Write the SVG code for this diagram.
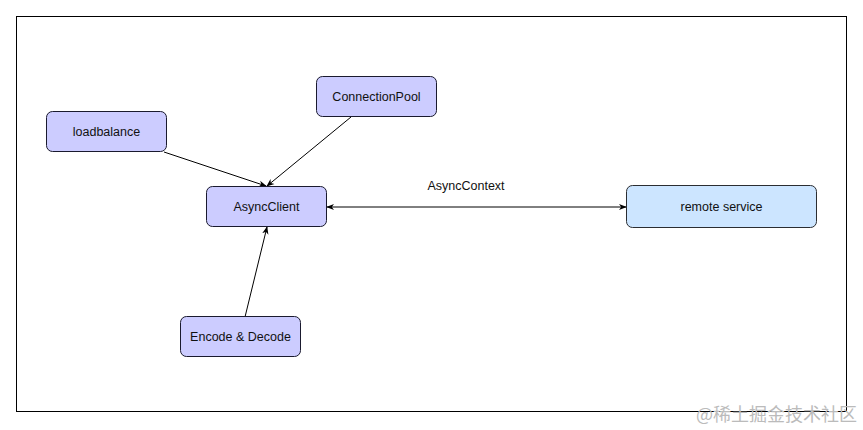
<svg xmlns="http://www.w3.org/2000/svg" width="863" height="430" viewBox="0 0 863 430">
<style>
.n{fill:#ccccff;stroke:#1a1a2e;stroke-width:1}
.r{fill:#cce5ff;stroke:#2b2d31;stroke-width:1}
.t{font-family:"Liberation Sans",Arial,sans-serif;font-size:12.5px;fill:#111;text-anchor:middle;dominant-baseline:central}
.e{stroke:#000;stroke-width:1;fill:none}
</style>
<defs>
<marker id="ah" viewBox="0 0 10 10" refX="9" refY="5" markerWidth="8" markerHeight="8" orient="auto-start-reverse" markerUnits="userSpaceOnUse">
<path d="M0,1 L10,5 L0,9 L3,5 Z" fill="#000"/>
</marker>
</defs>
<rect x="0" y="0" width="863" height="430" fill="#fff"/>
<rect x="16.5" y="16.5" width="830" height="395" fill="none" stroke="#000" stroke-width="1"/>
<g id="connectors">
<line class="e" x1="164" y1="152" x2="266" y2="186" marker-end="url(#ah)"/>
<line class="e" x1="351" y1="117" x2="267" y2="186" marker-end="url(#ah)"/>
<line class="e" x1="245" y1="317" x2="267" y2="227" marker-end="url(#ah)"/>
<line class="e" x1="327" y1="207" x2="626" y2="207" marker-start="url(#ah)" marker-end="url(#ah)"/>
<text class="t" x="466" y="186">AsyncContext</text>
</g>
<g id="loadbalance">
<rect class="n" x="46.5" y="111.5" width="120" height="40" rx="6"/>
<text class="t" x="106.5" y="131.5">loadbalance</text>
</g>
<g id="connectionpool">
<rect class="n" x="316.5" y="76.5" width="120" height="40" rx="6"/>
<text class="t" x="376.5" y="96.5">ConnectionPool</text>
</g>
<g id="asyncclient">
<rect class="n" x="206.5" y="186.5" width="120" height="40" rx="6"/>
<text class="t" x="266.5" y="206.5">AsyncClient</text>
</g>
<g id="encodedecode">
<rect class="n" x="180.5" y="316.5" width="120" height="40" rx="6"/>
<text class="t" x="240.5" y="336.5">Encode &amp; Decode</text>
</g>
<g id="remoteservice">
<rect class="r" x="626.5" y="185.5" width="190" height="42" rx="6"/>
<text class="t" x="721.5" y="206.5">remote service</text>
</g>
<text x="857" y="413" text-anchor="end" dominant-baseline="central" font-family="'Noto Sans CJK SC',sans-serif" font-size="18" fill="#bbb">@稀土掘金技术社区</text>
</svg>
